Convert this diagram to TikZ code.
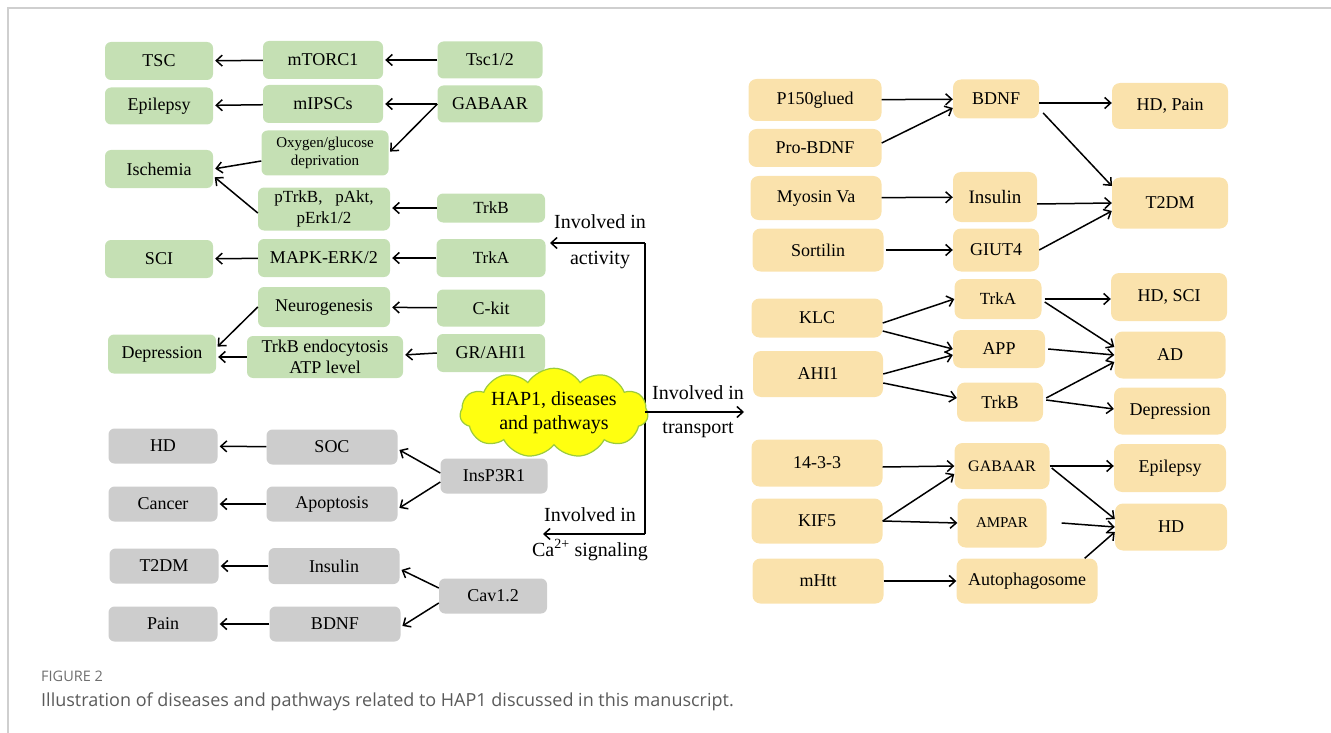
\documentclass[tikz,border=0pt]{standalone}
\usepackage{fontspec}
\setmainfont{Liberation Serif}
\newfontfamily\capfont{Open Sans}
\usepackage{tikz}
\usetikzlibrary{arrows.meta,shapes.symbols}
\definecolor{boxgreen}{HTML}{C5E0B4}
\definecolor{boxgrey}{HTML}{CDCDCD}
\definecolor{boxorange}{HTML}{FAE2AC}
\definecolor{cloudfill}{HTML}{FFFF10}
\definecolor{cloudline}{HTML}{9CCB3C}
\definecolor{framegrey}{HTML}{CFCFCF}
\definecolor{figgrey}{HTML}{6E6E6E}
\definecolor{capgrey}{HTML}{5A5A5A}
\tikzset{
    %Define standard arrow tip
    >={Straight Barb[length=6pt,width=11pt]},
    %Define style for boxes
    box/.style={
           rectangle,
           rounded corners=6pt,
           inner sep=0pt,
           align=center,
           font=\fontsize{18}{21}\selectfont,
           text centered},
    greenbox/.style={box, fill=boxgreen},
    greybox/.style={box, fill=boxgrey},
    orangebox/.style={box, fill=boxorange, rounded corners=8pt},
    wh/.style 2 args={minimum width=#1pt, minimum height=#2pt},
    hub/.style={
           cloud, cloud puffs=11, cloud puff arc=115, aspect=2.5,
           draw=cloudline, line width=1.2pt, fill=cloudfill,
           minimum width=188pt, minimum height=72pt,
           inner xsep=-4pt, inner ysep=-14pt,
           align=center,
           font=\fontsize{20}{24}\selectfont},
    lbl/.style={font=\fontsize{20}{22}\selectfont, inner sep=0pt},
    % Define arrow style
    pil/.style={
           ->,
           line width=1.5pt}
}
\begin{document}
\begin{tikzpicture}[x=1pt,y=-1pt]
\useasboundingbox (0,0) rectangle (1331,733);
\draw[framegrey, line width=1.6pt] (8,733) -- (8,8) -- (1331,8);

% activity
\node[greenbox, wh={108}{38}] (tsc) at (159,61) {TSC};
\node[greenbox, wh={120}{38}] (mtorc) at (323,60) {mTORC1};
\node[greenbox, wh={105}{37}] (tsc12) at (490,60) {Tsc1/2};
\node[greenbox, wh={108}{37}] (epiG) at (159,106) {Epilepsy};
\node[greenbox, wh={120}{38}] (mipsc) at (323,104) {mIPSCs};
\node[greenbox, wh={105}{37}] (gabaG) at (490,104) {GABAAR};
\node[greenbox, wh={127}{45}, font=\fontsize{15}{18}\selectfont] (oxy) at (325,153) {Oxygen/glucose\\deprivation};
\node[greenbox, wh={108}{38}] (isch) at (159,169) {Ischemia};
\node[greenbox, wh={132}{43}, font=\fontsize{17}{21}\selectfont] (ptrkb) at (324,209) {pTrkB,\ \ \ pAkt,\\pErk1/2};
\node[greenbox, wh={108}{29}, font=\fontsize{17}{20}\selectfont] (trkbG) at (491,208) {TrkB};
\node[greenbox, wh={108}{38}] (sci) at (159,259) {SCI};
\node[greenbox, wh={132}{38}] (mapk) at (324,258) {MAPK-ERK/2};
\node[greenbox, wh={109}{38}, font=\fontsize{17}{20}\selectfont] (trkaG) at (491,258) {TrkA};
\node[greenbox, wh={132}{40}] (neuro) at (324,307) {Neurogenesis};
\node[greenbox, wh={108}{37}] (ckit) at (491,308) {C-kit};
\node[greenbox, wh={108}{39}] (deprG) at (162,354) {Depression};
\node[greenbox, wh={156}{42}] (endo) at (325,357) {TrkB endocytosis\\ATP level};
\node[greenbox, wh={108}{38}] (grahi) at (491,353) {GR/AHI1};

% Ca2+ signaling
\node[greybox, wh={109}{35}] (hdG) at (163,446) {HD};
\node[greybox, wh={131}{35}] (soc) at (332,447) {SOC};
\node[greybox, wh={107}{35}] (insp) at (494,476) {InsP3R1};
\node[greybox, wh={109}{35}] (cancer) at (163,504) {Cancer};
\node[greybox, wh={131}{35}] (apop) at (332,504) {Apoptosis};
\node[greybox, wh={109}{35}] (t2dmG) at (164,566) {T2DM};
\node[greybox, wh={131}{36}] (insG) at (334,566) {Insulin};
\node[greybox, wh={108}{35}] (cav) at (493,596) {Cav1.2};
\node[greybox, wh={109}{35}] (pain) at (163,624) {Pain};
\node[greybox, wh={131}{35}] (bdnfG) at (335,624) {BDNF};

% transport
\node[orangebox, wh={133}{42}] (p150) at (815,100) {P150glued};
\node[orangebox, wh={133}{38}] (probdnf) at (815,148) {Pro-BDNF};
\node[orangebox, wh={131}{44}] (myosin) at (816,198) {Myosin Va};
\node[orangebox, wh={131}{43}] (sortilin) at (818,250) {Sortilin};
\node[orangebox, wh={86}{39}] (bdnfO) at (996,99) {BDNF};
\node[orangebox, wh={84}{50}, font=\fontsize{19}{21}\selectfont] (insO) at (995,197) {Insulin};
\node[orangebox, wh={86}{43}] (giut) at (996,250) {GIUT4};
\node[orangebox, wh={116}{46}] (hdpain) at (1170,106) {HD, Pain};
\node[orangebox, wh={116}{51}] (t2dmO) at (1170,203) {T2DM};
\node[orangebox, wh={131}{39}] (klc) at (817,318) {KLC};
\node[orangebox, wh={130}{46}] (ahi) at (818,374) {AHI1};
\node[orangebox, wh={87}{40}, font=\fontsize{17}{20}\selectfont] (trkaO) at (998,299) {TrkA};
\node[orangebox, wh={92}{38}] (app) at (999,349) {APP};
\node[orangebox, wh={86}{39}] (trkbO) at (1000,402) {TrkB};
\node[orangebox, wh={116}{48}] (hdsci) at (1169,297) {HD, SCI};
\node[orangebox, wh={111}{47}] (adO) at (1170,355) {AD};
\node[orangebox, wh={112}{47}] (deprO) at (1170,411) {Depression};
\node[orangebox, wh={131}{47}] (n1433) at (817,463) {14-3-3};
\node[orangebox, wh={131}{45}] (kif) at (817,521) {KIF5};
\node[orangebox, wh={131}{45}] (mhtt) at (818,581) {mHtt};
\node[orangebox, wh={95}{46}, font=\fontsize{16}{19}\selectfont] (gabaO) at (1002,466) {GABAAR};
\node[orangebox, wh={89}{49}, font=\fontsize{15}{18}\selectfont] (ampar) at (1002,523) {AMPAR};
\node[orangebox, wh={141}{45}] (autoph) at (1027,581) {Autophagosome};
\node[orangebox, wh={112}{48}] (epiO) at (1170,468) {Epilepsy};
\node[orangebox, wh={112}{47}] (hdO) at (1171,527) {HD};

% hub and its branches
\coordinate (jt) at (645,243);
\coordinate (jb) at (645,534);
\coordinate (actEnd) at (550,243);
\coordinate (caEnd) at (543,534);
\coordinate (trEnd) at (744,412);
\draw[line width=1.5pt] (jt) -- (jb);
\node[hub] (hap) at (554,413) {HAP1, diseases\\and pathways};
\node[lbl] (actA) at (600,222) {Involved in};
\node[lbl] (actB) at (600,260) {activity};
\node[lbl] (trA) at (698,393) {Involved in};
\node[lbl] (trB) at (698,430) {transport};
\node[lbl] (caA) at (590,515) {Involved in};
\node[lbl] (caB) at (590,550) {Ca\textsuperscript{2+} signaling};

\path[pil]
    (jt) edge (actEnd)
    (jb) edge (caEnd)
    (jt |- trEnd) edge (trEnd);

\path[pil, shorten >=2pt]
    (mtorc) edge (tsc)
    (tsc12) edge (mtorc)
    (mipsc) edge (epiG)
    (gabaG.west) edge (mipsc.east)
    (gabaG.west) edge (oxy.east)
    ([yshift=-8pt]oxy.west) edge (isch.east)
    ([yshift=-4pt]ptrkb.west) edge ([yshift=-7pt]isch.east)
    (trkbG.west) edge (trkbG.west -| ptrkb.east)
    (mapk) edge (sci)
    (trkaG) edge (mapk)
    (ckit) edge (neuro)
    (neuro.west) edge ([yshift=6pt]deprG.east)
    (endo.west) edge (endo.west -| deprG.east)
    (grahi.west) edge ([yshift=-2pt]grahi.west -| endo.east)
    % Ca2+ side
    (soc) edge (hdG)
    (apop) edge (cancer)
    (insG) edge (t2dmG)
    (bdnfG) edge (pain)
    ([yshift=3pt]insp.west) edge ([yshift=-2pt]soc.east)
    ([yshift=-6pt]insp.west) edge ([yshift=-5pt]apop.east)
    ([yshift=8pt]cav.west) edge ([yshift=-3pt]insG.east)
    ([yshift=-7pt]cav.west) edge ([yshift=-3pt]bdnfG.east);

\path[pil]
    (p150) edge (bdnfO)
    ([yshift=5pt]probdnf.east) edge ([yshift=-9pt]bdnfO.west)
    (myosin) edge (insO)
    ([xshift=2pt]sortilin.east) edge (giut)
    ([yshift=-4pt]bdnfO.east) edge ([yshift=-4pt]bdnfO.east -| hdpain.west)
    ([xshift=4pt,yshift=-14pt]bdnfO.east) edge ([yshift=17pt]t2dmO.west)
    ([yshift=-7pt]insO.east) edge (t2dmO.west)
    (giut.east) edge ([yshift=-8pt]t2dmO.west)
    ([yshift=-5pt]klc.east) edge (trkaO.west)
    ([yshift=-13pt]klc.east) edge (app.west)
    (ahi.east) edge ([yshift=-6pt]app.west)
    ([yshift=-9pt]ahi.east) edge ([yshift=4pt]trkbO.west)
    ([xshift=3pt]trkaO.east) edge (trkaO.east -| hdsci.west)
    ([xshift=3pt,yshift=-3pt]trkaO.east) edge ([yshift=8pt]adO.west)
    ([xshift=3pt]app.east) edge (adO.west)
    ([xshift=3pt,yshift=4pt]trkbO.east) edge ([yshift=-7pt]adO.west)
    ([xshift=3pt,yshift=2pt]trkbO.east) edge ([yshift=2pt]deprO.west)
    ([yshift=-4pt]n1433.east) edge (gabaO.west)
    (kif.east) edge ([yshift=-8pt]gabaO.west)
    (kif.east) edge (ampar.west)
    (mhtt) edge (autoph)
    (gabaO.east) edge (gabaO.east -| epiO.west)
    ([xshift=2pt,yshift=-2pt]gabaO.east) edge ([yshift=8pt]hdO.west)
    ([xshift=15pt]ampar.east) edge (hdO.west)
    ([xshift=-13pt]autoph.north east) edge ([yshift=-5pt]hdO.west);

% caption
\node[anchor=west, inner sep=0pt, text=figgrey, font=\capfont\fontsize{14.5}{16}\selectfont] (figno) at (41,676) {FIGURE 2};
\node[anchor=west, inner sep=0pt, text=capgrey, font=\capfont\fontsize{18}{21}\selectfont] (figcap) at (41,702) {Illustration of diseases and pathways related to HAP1 discussed in this manuscript.};
\end{tikzpicture}
\end{document}
